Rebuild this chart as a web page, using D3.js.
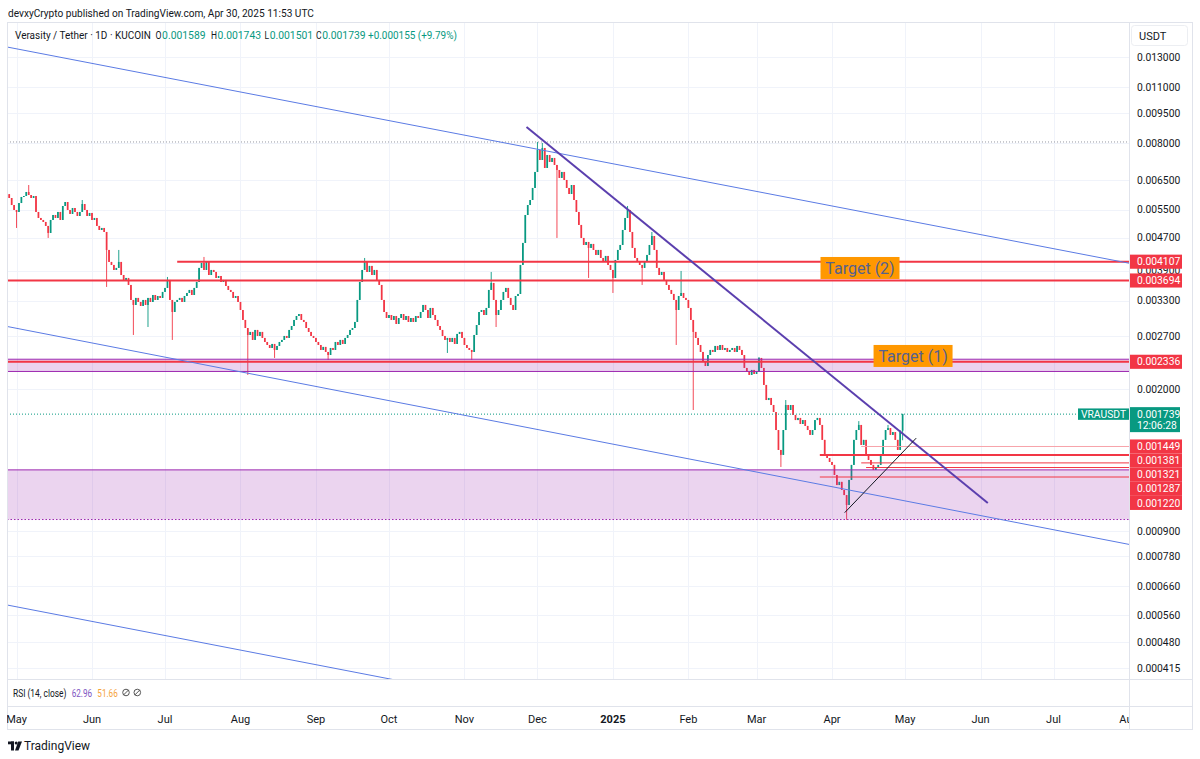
<!DOCTYPE html>
<html>
<head>
<meta charset="utf-8">
<script src="https://cdn.jsdelivr.net/npm/d3@7"></script>
<style>
  html, body { margin: 0; padding: 0; background: #fff }
  svg { display: block; font-family: Roboto, "Noto Sans", sans-serif }
</style>
</head>
<body>
<svg id="canvas" width="1200" height="759"></svg>
<script>
// VRA / USDT daily candles, KUCOIN. prices below are in micro USDT (1e-6)
const firstDay = "2024-04-28"
const firstOpen = 6010
const closes = [
  5881,5653,5497,5436,5717,5915,5948,6084,5981,5881,
  5948,5436,5255,5196,5138,5024,4829,5196,5344,5255,
  5436,5196,5622,5750,5497,5375,5559,5436,5314,5436,
  5685,5497,5314,5405,5196,5255,5024,4911,4967,4856,
  4388,4101,4032,3920,3965,4101,3810,3705,3747,3602,
  3310,3218,3348,3273,3200,3310,3218,3348,3273,3404,
  3310,3385,3348,3463,3542,3705,3310,3093,3273,3310,
  3348,3273,3385,3443,3502,3404,3542,3664,3965,4078,
  3920,4101,3810,3920,3876,3747,3789,3664,3705,3582,
  3502,3463,3348,3385,3273,3128,2957,2826,2717,2764,
  2642,2795,2702,2764,2672,2612,2568,2525,2583,2497,
  2554,2612,2642,2702,2672,2795,2858,2957,3024,3058,
  2957,2924,2826,2764,2702,2672,2612,2568,2497,2540,
  2469,2427,2525,2497,2612,2568,2642,2583,2672,2717,
  2795,2826,2924,3310,3664,3920,4101,3876,4010,3810,
  3920,3705,3602,3310,3093,2990,3041,2957,3024,2891,
  2990,3058,2957,3024,2924,2990,2924,3024,2990,3093,
  3218,3128,2990,3164,3041,2957,2858,2795,2702,2642,
  2672,2612,2672,2583,2733,2764,2672,2568,2525,2497,
  2469,2717,2874,3093,3128,3041,3164,3502,3643,3310,
  3041,3128,3310,3463,3542,3348,3218,3128,3385,3424,
  4032,4565,5344,5653,5815,6223,6811,7710,7286,7797,
  6966,7495,7206,7370,7085,6887,6586,6811,6510,6223,
  6015,6328,5815,5436,5052,4695,4513,4590,4438,4539,
  4388,4266,4388,4194,4101,4242,4032,3920,3747,4147,
  4388,4513,4911,5255,5497,4856,4438,4194,4101,4032,
  3965,4101,4266,4513,4747,4388,3965,3810,3876,3705,
  3602,3502,3424,3310,3128,3385,3443,3348,3310,3164,
  2957,2764,2672,2568,2469,2333,2281,2427,2497,2469,
  2554,2497,2568,2497,2525,2469,2497,2525,2469,2554,
  2497,2427,2256,2206,2169,2231,2181,2206,2387,2256,
  2050,1883,1905,1831,1760,1590,1421,1382,1590,1831,
  1780,1831,1731,1682,1702,1645,1682,1627,1590,1547,
  1590,1682,1702,1636,1504,1382,1358,1328,1306,1234,
  1166,1187,1134,1102,1042,1200,1306,1504,1590,1636,
  1462,1504,1382,1343,1306,1270,1284,1306,1382,1504,
  1590,1608,1547,1572,1504,1421,1584,1739
]
// long wicks [day index, price]
const wickHighs = [[8,6328],[30,5815],[45,4388],[65,3768],[80,4218],[146,4194],[198,3876],
  [217,8065],[219,8020],[254,5622],[264,4856],[276,3898],[308,2400],[319,1883],[349,1672],[361,1636],[367,1743]]
const wickLows = [[3,4967],[16,4695],[40,3562],[51,2717],[57,2842],[67,2642],[98,2169],[109,2387],
  [131,2360],[180,2455],[190,2360],[200,2842],[225,4695],[238,3747],[248,3443],[260,3602],[274,2568],
  [281,1780],[317,1291],[344,958],[367,1501]]

// drawings (date, price in USDT)
const channelLines = [
  [["2024-04-27T02:00Z", 0.013777], ["2025-08-01T05:00Z", 0.004070]],
  [["2024-04-27T02:00Z", 0.002851], ["2025-08-01T05:00Z", 0.000834]],
  [["2024-04-27T02:00Z", 0.000593], ["2025-08-01T05:00Z", 0.0001746]]
]
const trendDown = [["2024-11-26T12:00Z", 0.008776], ["2025-06-04T00:00Z", 0.001054]]
const trendUp = [["2025-04-06T05:00Z", 0.000998], ["2025-05-05T14:00Z", 0.001519]]
const levelPrices = [0.004107, 0.003694, 0.002336, 0.001449, 0.001381, 0.001321, 0.001287, 0.001220]
const levelStarts = ["2024-07-06", null, null, "2025-04-13", "2025-03-27", "2025-04-13", "2025-04-15", "2025-03-27"]
const zones = [[0.002370, 0.002212], [0.001270, 0.000960]]
const highMark = 0.008065
const lastPrice = 0.001739
const targets = [["Target (2)", "2025-04-12T12:00Z", 0.003964], ["Target (1)", "2025-05-04T07:00Z", 0.002414]]

const yTicks = [0.013, 0.011, 0.0095, 0.008, 0.0065, 0.0055, 0.0047, 0.0039, 0.0033, 0.0027, 0.002,
  0.0009, 0.00078, 0.00066, 0.00056, 0.00048, 0.000415]

const headerText = "devxyCrypto published on TradingView.com, Apr 30, 2025 11:53 UTC"
const symbolTitle = "Verasity / Tether · 1D · KUCOIN"
const ohlcLabels = ["O", "H", "L", "C"]
const ohlcValues = ["0.001589", "0.001743", "0.001501", "0.001739"]
const changeText = "+0.000155 (+9.79%)"
const rsiTitle = "RSI (14, close)"
const rsiValues = ["62.96", "51.66"]
const countdown = "12:06:28"

const svg = d3.select("#canvas")
const plot = { left: 7, right: 1129.5, top: 22, bottom: 679 }
const frame = { right: 1192, bottom: 729 }
const rsiBottom = 706
const upCol = "#089981", downCol = "#f23645", gridCol = "#f0f3fa", lineCol = "#e0e3eb", ink = "#131722"

const x = d3.scaleUtc()
  .domain([new Date("2024-04-27T02:00Z"), new Date("2025-08-01T05:00Z")])
  .range([plot.left, plot.right])
const y = d3.scaleLog().domain([0.0003907, 0.015862]).range([plot.bottom, plot.top])
const fmt = d3.format(".6f")
const day0 = new Date(firstDay + "T00:00Z")
const dayAt = function(i) { return d3.utcDay.offset(day0, i) }

// the snapshot font is narrower than anything installed: squeeze a label to the width it has there
const fit = function(sel, w) {
  const n = sel.node().getComputedTextLength()
  const x0 = +sel.attr("x"), y0 = +sel.attr("y")
  return sel.attr("x", 0).attr("y", 0)
    .attr("transform", "translate(" + x0 + "," + y0 + ") scale(" + (w / n) + ",1)")
}

svg.append("defs").append("clipPath").attr("id", "plotClip")
  .append("rect").attr("x", plot.left).attr("y", plot.top)
  .attr("width", plot.right - plot.left).attr("height", plot.bottom - plot.top)

// header
fit(svg.append("text").attr("x", 8).attr("y", 17).attr("font-size", 11.5).attr("fill", ink).text(headerText), 306)

// grid
const months = x.ticks(d3.utcMonth.every(1))
const grid = svg.append("g").attr("stroke", gridCol).attr("stroke-width", 1)
grid.selectAll("line.v").data(months.filter(function(d) { return x(d) < plot.right - 2 }))
  .enter().append("line").attr("class", "v")
  .attr("x1", function(d) { return Math.round(x(d)) + 0.5 }).attr("x2", function(d) { return Math.round(x(d)) + 0.5 })
  .attr("y1", plot.top).attr("y2", plot.bottom)
grid.selectAll("line.h").data(yTicks)
  .enter().append("line").attr("class", "h")
  .attr("x1", plot.left).attr("x2", plot.right)
  .attr("y1", function(d) { return Math.round(y(d)) + 0.5 }).attr("y2", function(d) { return Math.round(y(d)) + 0.5 })

const chart = svg.append("g").attr("clip-path", "url(#plotClip)")

// candles
const hiMap = new Map(wickHighs), loMap = new Map(wickLows)
const candles = closes.map(function(c, i) {
  const o = i ? closes[i - 1] : firstOpen
  const h = Math.max(o, c, hiMap.get(i) || 0)
  const l = Math.min(o, c, loMap.get(i) || Infinity)
  return { date: dayAt(i), o: o * 1e-6, c: c * 1e-6, h: h * 1e-6, l: l * 1e-6 }
})
const cg = chart.append("g")
cg.selectAll("line").data(candles).enter().append("line")
  .attr("x1", function(d) { return x(d.date) }).attr("x2", function(d) { return x(d.date) })
  .attr("y1", function(d) { return y(d.h) }).attr("y2", function(d) { return y(d.l) })
  .attr("stroke", function(d) { return d.c >= d.o ? upCol : downCol }).attr("stroke-width", 0.9)
cg.selectAll("rect").data(candles).enter().append("rect")
  .attr("x", function(d) { return x(d.date) - 0.85 }).attr("width", 1.7)
  .attr("y", function(d) { return y(Math.max(d.o, d.c)) })
  .attr("height", function(d) { return Math.max(1, Math.abs(y(d.o) - y(d.c))) })
  .attr("fill", function(d) { return d.c >= d.o ? upCol : downCol })

// zones
chart.selectAll("rect.zone").data(zones).enter().append("rect").attr("class", "zone")
  .attr("x", plot.left).attr("width", plot.right - plot.left)
  .attr("y", function(d) { return y(d[0]) }).attr("height", function(d) { return y(d[1]) - y(d[0]) })
  .attr("fill", "rgba(156,39,176,0.2)")
chart.selectAll("line.ztop").data(zones).enter().append("line")
  .attr("x1", plot.left).attr("x2", plot.right)
  .attr("y1", function(d) { return y(d[0]) }).attr("y2", function(d) { return y(d[0]) })
  .attr("stroke", "#9c27b0").attr("stroke-width", 1)
chart.selectAll("line.zbot").data(zones).enter().append("line")
  .attr("x1", plot.left).attr("x2", plot.right)
  .attr("y1", function(d) { return y(d[1]) }).attr("y2", function(d) { return y(d[1]) })
  .attr("stroke", "#9c27b0").attr("stroke-width", 1)
  .attr("stroke-dasharray", function(d, i) { return i ? "1.5,2" : null })

// dotted marks
chart.append("line").attr("x1", plot.left).attr("x2", plot.right)
  .attr("y1", y(highMark)).attr("y2", y(highMark))
  .attr("stroke", "#9598a1").attr("stroke-dasharray", "1,2")
chart.append("line").attr("x1", plot.left).attr("x2", plot.right)
  .attr("y1", y(lastPrice)).attr("y2", y(lastPrice))
  .attr("stroke", upCol).attr("stroke-dasharray", "1,2")

// horizontal levels
chart.selectAll("line.level").data(levelPrices).enter().append("line").attr("class", "level")
  .attr("x1", function(d, i) { return levelStarts[i] ? x(new Date(levelStarts[i] + "T00:00Z")) : plot.left })
  .attr("x2", plot.right)
  .attr("y1", function(d) { return y(d) }).attr("y2", function(d) { return y(d) })
  .attr("stroke", function(d, i) { return i === 3 ? "#f7a3aa" : downCol })
  .attr("stroke-width", function(d, i) { return i < 3 || i === 4 ? 2 : 1 })

// channel + trend lines
const seg = function(p) { return { x1: x(new Date(p[0][0])), y1: y(p[0][1]), x2: x(new Date(p[1][0])), y2: y(p[1][1]) } }
chart.selectAll("line.chan").data(channelLines.map(seg)).enter().append("line")
  .attr("x1", function(d) { return d.x1 }).attr("y1", function(d) { return d.y1 })
  .attr("x2", function(d) { return d.x2 }).attr("y2", function(d) { return d.y2 })
  .attr("stroke", "#5b7be4").attr("stroke-width", 1)
const td = seg(trendDown), tu = seg(trendUp)
chart.append("line").attr("x1", td.x1).attr("y1", td.y1).attr("x2", td.x2).attr("y2", td.y2)
  .attr("stroke", "#5b3fae").attr("stroke-width", 2)
chart.append("line").attr("x1", tu.x1).attr("y1", tu.y1).attr("x2", tu.x2).attr("y2", tu.y2)
  .attr("stroke", ink).attr("stroke-width", 1)

// target labels
const tg = svg.append("g").selectAll("g").data(targets).enter().append("g")
  .attr("transform", function(d) { return "translate(" + x(new Date(d[1])) + "," + y(d[2]) + ")" })
tg.append("rect").attr("x", -39.5).attr("y", -11).attr("width", 79).attr("height", 22).attr("fill", "#ff9800")
tg.append("text").attr("text-anchor", "middle").attr("dy", "0.35em").attr("font-size", 16)
  .attr("fill", "#56618f").text(function(d) { return d[0] })

// legend
const lg = svg.append("g").attr("font-size", 11).attr("fill", ink)
fit(lg.append("text").attr("x", 15).attr("y", 39).text(symbolTitle), 136)
const ohlcX = [155.5, 211, 264.5, 316]
const letterW = [6, 6, 4.6, 5.6]
ohlcLabels.forEach(function(k, i) {
  fit(lg.append("text").attr("x", ohlcX[i]).attr("y", 39).text(k), letterW[i])
  fit(lg.append("text").attr("x", ohlcX[i] + letterW[i] + 0.6).attr("y", 39).attr("fill", upCol).text(ohlcValues[i]), 43.5)
})
fit(lg.append("text").attr("x", 368).attr("y", 39).attr("fill", upCol).text(changeText), 89)

// frame
const fr = svg.append("g").attr("stroke", lineCol).attr("fill", "none")
fr.append("rect").attr("x", plot.left + 0.5).attr("y", plot.top + 0.5)
  .attr("width", frame.right - plot.left).attr("height", frame.bottom - plot.top)
fr.append("line").attr("x1", 1129.5).attr("x2", 1129.5).attr("y1", plot.top).attr("y2", frame.bottom)
fr.append("line").attr("x1", plot.left).attr("x2", frame.right).attr("y1", plot.bottom + 0.5).attr("y2", plot.bottom + 0.5)
fr.append("line").attr("x1", plot.left).attr("x2", frame.right).attr("y1", rsiBottom + 0.5).attr("y2", rsiBottom + 0.5)

// price axis
svg.append("rect").attr("x", 1131.5).attr("y", 25.5).attr("width", 56).attr("height", 20).attr("rx", 3)
  .attr("fill", "#fff").attr("stroke", "#eceef2")
svg.append("text").attr("x", 1139).attr("y", 39.5).attr("font-size", 11).attr("fill", ink).text("USDT")
svg.append("g").selectAll("text").data(yTicks).enter().append("text")
  .attr("x", 1137).attr("y", function(d) { return y(d) }).attr("dy", "0.35em")
  .attr("font-size", 10.3).attr("fill", ink).text(fmt)

// level labels on the axis, stacked when they touch
const marks = levelPrices.map(function(p) { return { p: p, y: y(p) } }).sort(function(a, b) { return a.y - b.y })
let prevY = -100
marks.forEach(function(m) { m.ly = Math.max(m.y, prevY + 14.1); prevY = m.ly })
const ml = svg.append("g").selectAll("g").data(marks).enter().append("g")
  .attr("transform", function(d) { return "translate(1130," + d.ly + ")" })
ml.append("rect").attr("x", 0).attr("y", -7.05).attr("width", 52).attr("height", 14.1).attr("fill", downCol)
ml.append("text").attr("x", 7).attr("dy", "0.35em").attr("font-size", 10.3).attr("fill", "#fff")
  .text(function(d) { return fmt(d.p) })

// last price label
const ly = y(lastPrice)
svg.append("rect").attr("x", 1130).attr("y", ly - 7).attr("width", 50).attr("height", 25).attr("fill", upCol)
svg.append("text").attr("x", 1137).attr("y", ly).attr("dy", "0.35em").attr("font-size", 10.3).attr("fill", "#fff").text(fmt(lastPrice))
svg.append("text").attr("x", 1137).attr("y", ly + 11.7).attr("dy", "0.35em").attr("font-size", 10.3).attr("fill", "#fff").text(countdown)
svg.append("rect").attr("x", 1078).attr("y", ly - 5.7).attr("width", 51).attr("height", 11.4).attr("fill", upCol)
svg.append("text").attr("x", 1103.5).attr("y", ly).attr("dy", "0.35em").attr("text-anchor", "middle")
  .attr("font-size", 10.3).attr("fill", "#fff").text("VRAUSDT")

// RSI pane legend
const rl = svg.append("g").attr("font-size", 11)
fit(rl.append("text").attr("x", 13).attr("y", 696.5).attr("fill", ink).text(rsiTitle), 53.5)
fit(rl.append("text").attr("x", 71.7).attr("y", 696.5).attr("fill", "#7e57c2").text(rsiValues[0]), 20.5)
fit(rl.append("text").attr("x", 97.3).attr("y", 696.5).attr("fill", "#f5a33b").text(rsiValues[1]), 20.5)
const icons = svg.append("g").attr("stroke", "#555").attr("fill", "none").attr("stroke-width", 1)
;[126, 137.3].forEach(function(cx) {
  icons.append("circle").attr("cx", cx).attr("cy", 692.5).attr("r", 3.3)
  icons.append("line").attr("x1", cx - 2.6).attr("y1", 695.1).attr("x2", cx + 2.6).attr("y2", 689.9)
})

// time axis
svg.append("defs").append("clipPath").attr("id", "timeClip")
  .append("rect").attr("x", plot.left).attr("y", rsiBottom).attr("width", plot.right - plot.left - 0.5).attr("height", 23)
svg.append("g").attr("clip-path", "url(#timeClip)").selectAll("text").data(months).enter().append("text")
  .attr("x", function(d) { return x(d) }).attr("y", 719.5).attr("dy", "0.35em").attr("text-anchor", "middle")
  .attr("font-size", 11).attr("fill", ink)
  .attr("font-weight", function(d) { return d.getUTCMonth() === 0 ? "bold" : null })
  .text(function(d) { return d.getUTCMonth() === 0 ? d3.utcFormat("%Y")(d) : d3.utcFormat("%b")(d) })

// TradingView mark
const tv = svg.append("g").attr("fill", ink)
tv.append("rect").attr("x", 8).attr("y", 741.5).attr("width", 6).attr("height", 2.8)
tv.append("rect").attr("x", 11).attr("y", 741.5).attr("width", 3).attr("height", 9)
tv.append("circle").attr("cx", 16.2).attr("cy", 743).attr("r", 1.5)
tv.append("path").attr("d", "M18.2,741.5 L22,741.5 L18.5,750.5 L15,750.5 Z")
svg.append("text").attr("x", 24).attr("y", 750).attr("font-size", 12).attr("fill", ink).text("TradingView")
</script>
</body>
</html>
